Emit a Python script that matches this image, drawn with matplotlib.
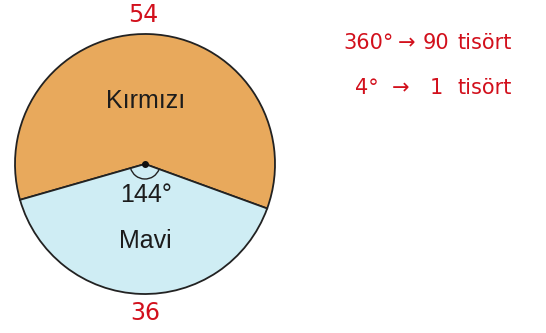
import matplotlib
matplotlib.use("Agg")
import matplotlib.pyplot as plt
from matplotlib.patches import Arc

categories = ["Kırmızı", "Mavi"]
angles = [216, 144]
counts = [54, 36]
colors = ["#E8A95C", "#CFEDF4"]
note_line1 = ["360°", "→", "90", "tisört"]
note_line2 = ["4°", "→", "1", "tisört"]

W, H = 546, 333
fig = plt.figure(figsize=(W / 100, H / 100), dpi=100)
fig.patch.set_facecolor("white")
ax = fig.add_axes([0, 0, 1, 1])

cx, cy, r = 145, 333 - 164, 130
start = 360 - 20
ax.pie(angles, colors=colors, startangle=start, counterclock=True,
       center=(cx, cy), radius=r, frame=True,
       wedgeprops=dict(edgecolor="#222222", linewidth=1.3))
ax.set_xlim(0, W)
ax.set_ylim(0, H)
ax.set_aspect("equal")
ax.axis("off")

# centre dot and angle arc
ax.plot([cx], [cy], marker="o", ms=4, color="#111111")
mavi_start = start + angles[0]
ax.add_patch(Arc((cx, cy), 30, 30, theta1=mavi_start, theta2=mavi_start + angles[1],
                 color="#222222", lw=1.0))

txt = dict(family="Liberation Sans", fontsize=18, color="#1c1c1c", ha="center", va="center")
ax.text(cx + 1, 333 - 101, categories[0], **txt)
ax.text(cx + 1, 333 - 195, f"{angles[1]}°", **txt)
ax.text(cx, 333 - 241, categories[1], **txt)

red = "#D2101C"
ax.text(143, 333 - 15, str(counts[0]), fontsize=17, color=red, ha="center", va="center")
ax.text(145, 333 - 313, str(counts[1]), fontsize=17, color=red, ha="center", va="center")

x1 = [343, 398, 423, 457]
x2 = [355, 392, 430, 457]
for s, x in zip(note_line1, x1):
    ax.text(x, 333 - 43, s, fontsize=15, color=red, ha="left", va="center")
for s, x in zip(note_line2, x2):
    ax.text(x, 333 - 88, s, fontsize=15, color=red, ha="left", va="center")

fig.savefig("out.png", dpi=100, facecolor="white")
